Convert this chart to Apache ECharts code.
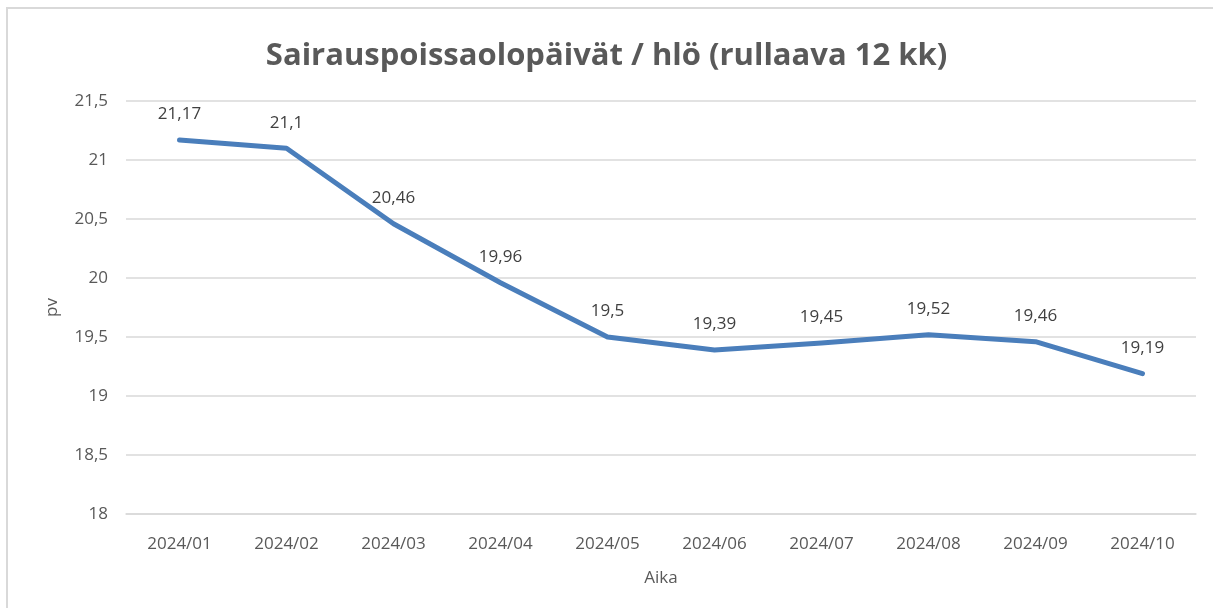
<!DOCTYPE html>
<html>
<head>
<meta charset="utf-8">
<script src="https://cdn.jsdelivr.net/npm/echarts@6/dist/echarts.min.js"></script>
<style>
  body { margin: 0; background: #fff; }
  #chart { position: absolute; left: 0; top: 0; width: 1213px; height: 608px; }
  #frame { position: absolute; left: 6px; top: 7px; width: 1230px; height: 640px;
           border: 2px solid #d9d9d9; pointer-events: none; }
</style>
</head>
<body>
<div id="chart"></div>
<div id="frame"></div>
<script>
// kuukaudet ja arvot
var months = ["2024/01", "2024/02", "2024/03", "2024/04", "2024/05", "2024/06", "2024/07", "2024/08", "2024/09", "2024/10"];
var days = [21.17, 21.1, 20.46, 19.96, 19.5, 19.39, 19.45, 19.52, 19.46, 19.19];

function fi(v) {
  return String(v).replace(".", ",");
}

var myChart = echarts.init(document.getElementById("chart"));
var option = {
  animation: false,
  textStyle: { fontFamily: "Open Sans" },
  title: {
    text: "Sairauspoissaolopäivät / hlö (rullaava 12 kk)",
    left: "center",
    top: 36,
    textStyle: { fontSize: 31, fontWeight: "bold", color: "#595959", fontFamily: "Open Sans" }
  },
  grid: { left: 126, right: 17, top: 101, bottom: 94 },
  xAxis: {
    type: "category",
    data: months,
    name: "Aika",
    nameLocation: "middle",
    nameGap: 56,
    nameTextStyle: { fontSize: 17, color: "#595959" },
    axisLine: { lineStyle: { color: "#d9d9d9", width: 1.5 } },
    axisTick: { show: false },
    axisLabel: { fontSize: 17, color: "#595959", margin: 22 }
  },
  yAxis: {
    type: "value",
    min: 18,
    max: 21.5,
    interval: 0.5,
    name: "pv",
    nameLocation: "middle",
    nameGap: 65,
    nameTextStyle: { fontSize: 17, color: "#595959" },
    axisLine: { show: false },
    axisTick: { show: false },
    axisLabel: { fontSize: 17, color: "#595959", margin: 18, formatter: fi },
    splitLine: { lineStyle: { color: "#d9d9d9", width: 1.5 } }
  },
  series: [
    {
      type: "line",
      data: days,
      symbol: "circle",
      symbolSize: 2,
      itemStyle: { color: "transparent" },
      lineStyle: { color: "#4a7ebb", width: 5, cap: "round", join: "round" },
      label: {
        show: true,
        position: "top",
        distance: 16,
        fontSize: 17,
        color: "#404040",
        formatter: function (p) { return fi(p.value); }
      }
    }
  ]
};
option && myChart.setOption(option);
</script>
</body>
</html>
